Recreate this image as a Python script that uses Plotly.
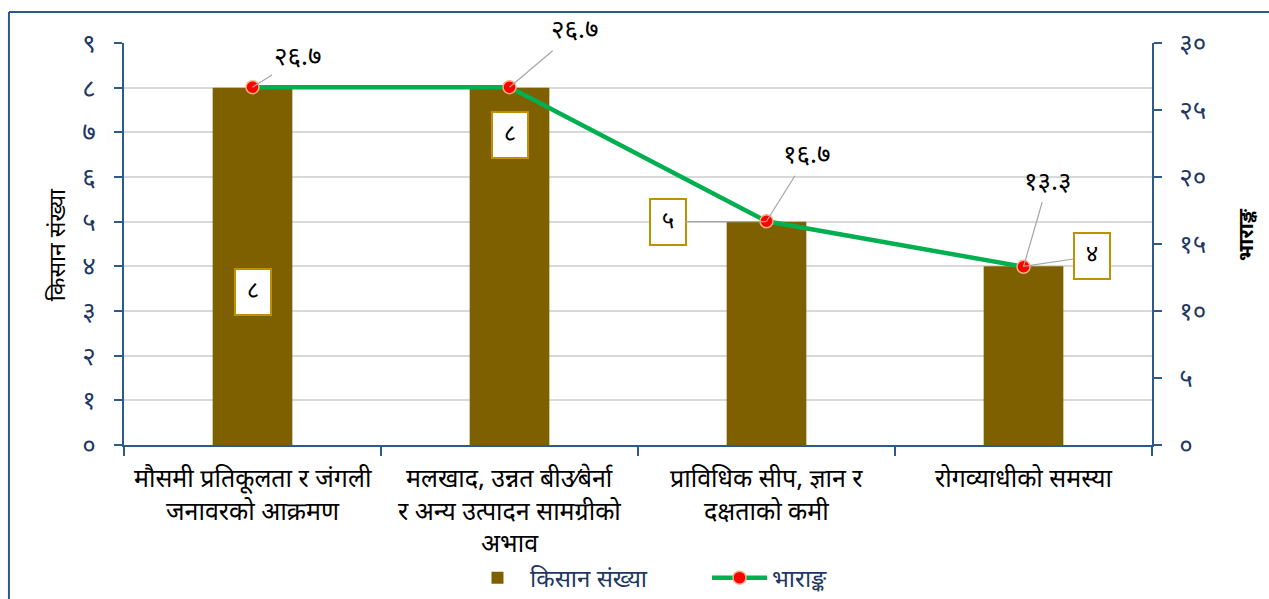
import plotly.graph_objects as go

categories = ['c1', 'c2', 'c3', 'c4']
category_lines = [
    ['मौसमी प्रतिकूलता र जंगली', 'जनावरको आक्रमण'],
    ['मलखाद, उन्नत बीउ⁄बेर्ना', 'र अन्य उत्पादन सामग्रीको', 'अभाव'],
    ['प्राविधिक सीप, ज्ञान र', 'दक्षताको कमी'],
    ['रोगव्याधीको समस्या'],
]
farmers = [8, 8, 5, 4]
farmer_text = ['८', '८', '५', '४']
weight = [26.7, 26.7, 16.7, 13.3]
weight_text = ['२६.७', '२६.७', '१६.७', '१३.३']
left_ticks = list(range(10))
left_ticktext = ['०', '१', '२', '३', '४', '५', '६', '७', '८', '९']
right_ticks = [0, 5, 10, 15, 20, 25, 30]
right_ticktext = ['०', '५', '१०', '१५', '२०', '२५', '३०']

FONT = 'Noto Sans Devanagari, Lohit Devanagari, Mangal, Noto Sans, sans-serif'
NAVY = '#1F3864'
AXIS = '#2E5A88'

fig = go.Figure()
fig.add_trace(go.Bar(x=categories, y=farmers, name='किसान संख्या', width=0.31,
                     marker=dict(color='#7F6000', line=dict(width=0))))
fig.add_trace(go.Scatter(x=categories, y=weight, name='भाराङ्क', yaxis='y2', mode='lines+markers',
                         line=dict(color='#00B050', width=4.5),
                         marker=dict(color='#FF0000', size=13, line=dict(color='#F4B183', width=1.5))))

annotations = []
# bar value boxes: (x shift, y shift, arrow)
bar_pos = [(0, -204, None), (0, -47, None), (-99, 0, True), (68, -10, True)]
for c, v, t, (dx, dy, arr) in zip(categories, farmers, farmer_text, bar_pos):
    a = dict(x=c, y=v, xref='x', yref='y', text=t, font=dict(family=FONT, size=24, color='black'),
             bgcolor='white', bordercolor='#BF9000', borderwidth=2, borderpad=6, width=22)
    if arr:
        a.update(showarrow=True, arrowhead=0, arrowcolor='#A6A6A6', arrowwidth=1.2, ax=dx, ay=dy)
    else:
        a.update(showarrow=False, yshift=dy)
    annotations.append(a)

line_pos = [(45, -28), (65, -55), (40, -64), (24, -83)]
for c, v, t, (dx, dy) in zip(categories, weight, weight_text, line_pos):
    annotations.append(dict(x=c, y=v, xref='x', yref='y2', text=t, showarrow=True, arrowhead=0,
                            arrowcolor='#A6A6A6', arrowwidth=1.2, ax=dx, ay=dy,
                            font=dict(family=FONT, size=26, color='black')))

for c, lines in zip(categories, category_lines):
    for i, ln in enumerate(lines):
        annotations.append(dict(x=c, y=0, xref='x', yref='paper', text=ln, showarrow=False,
                                yanchor='middle', yshift=-(35 + 33 * i),
                                font=dict(family=FONT, size=25, color='black')))

annotations.append(dict(x=-0.063, y=0.4975, xref='paper', yref='paper', text='किसान संख्या',
                        xanchor='center', yanchor='middle', textangle=-90, showarrow=False,
                        font=dict(family=FONT, size=23, color='black')))
annotations.append(dict(x=1.0934, y=0.522, xref='paper', yref='paper', text='<b>भाराङ्क</b>',
                        xanchor='center', yanchor='middle', textangle=-90, showarrow=False,
                        font=dict(family=FONT, size=21, color='black')))

fig.update_layout(
    width=1269, height=599,
    margin=dict(l=124, r=117, t=43, b=154, autoexpand=False),
    paper_bgcolor='white', plot_bgcolor='white',
    font=dict(family=FONT),
    showlegend=True,
    legend=dict(orientation='h', x=0.3317, y=-0.331, xanchor='left', yanchor='middle',
                font=dict(family=FONT, size=24, color=NAVY), itemwidth=55,
                entrywidth=172, entrywidthmode='pixels', traceorder='normal'),
    xaxis=dict(showticklabels=False, ticks='outside', tickson='boundaries', ticklen=9,
               tickcolor=AXIS, tickwidth=2, showline=True, linecolor=AXIS, linewidth=2,
               showgrid=False, range=[-0.5, 3.5]),
    yaxis=dict(range=[0, 9], tickvals=left_ticks, ticktext=left_ticktext, ticks='outside',
               ticklen=8, tickcolor=AXIS, tickwidth=2, showline=True, linecolor=AXIS, linewidth=2,
               gridcolor='#D9D9D9', gridwidth=1.5, zeroline=False,
               tickfont=dict(family=FONT, size=26, color=NAVY), ticklabelstandoff=13),
    yaxis2=dict(range=[0, 30], tickvals=right_ticks, ticktext=right_ticktext, overlaying='y',
                side='right', ticks='outside', ticklen=8, tickcolor=AXIS, tickwidth=2,
                showline=True, linecolor=AXIS, linewidth=2, showgrid=False, zeroline=False,
                tickfont=dict(family=FONT, size=26, color=NAVY), ticklabelstandoff=12),
    annotations=annotations,
    shapes=[
        dict(type='line', xref='paper', yref='paper', x0=-0.1119, x1=1.3, y0=1.0771, y1=1.0771,
             line=dict(color=AXIS, width=2)),
        dict(type='line', xref='paper', yref='paper', x0=-0.1119, x1=-0.1119, y0=-0.5, y1=1.0771,
             line=dict(color=AXIS, width=2)),
    ],
)

fig.write_html('out.html', config={'displayModeBar': False},
               post_script="document.body.style.margin='0';document.body.style.overflow='hidden';")
